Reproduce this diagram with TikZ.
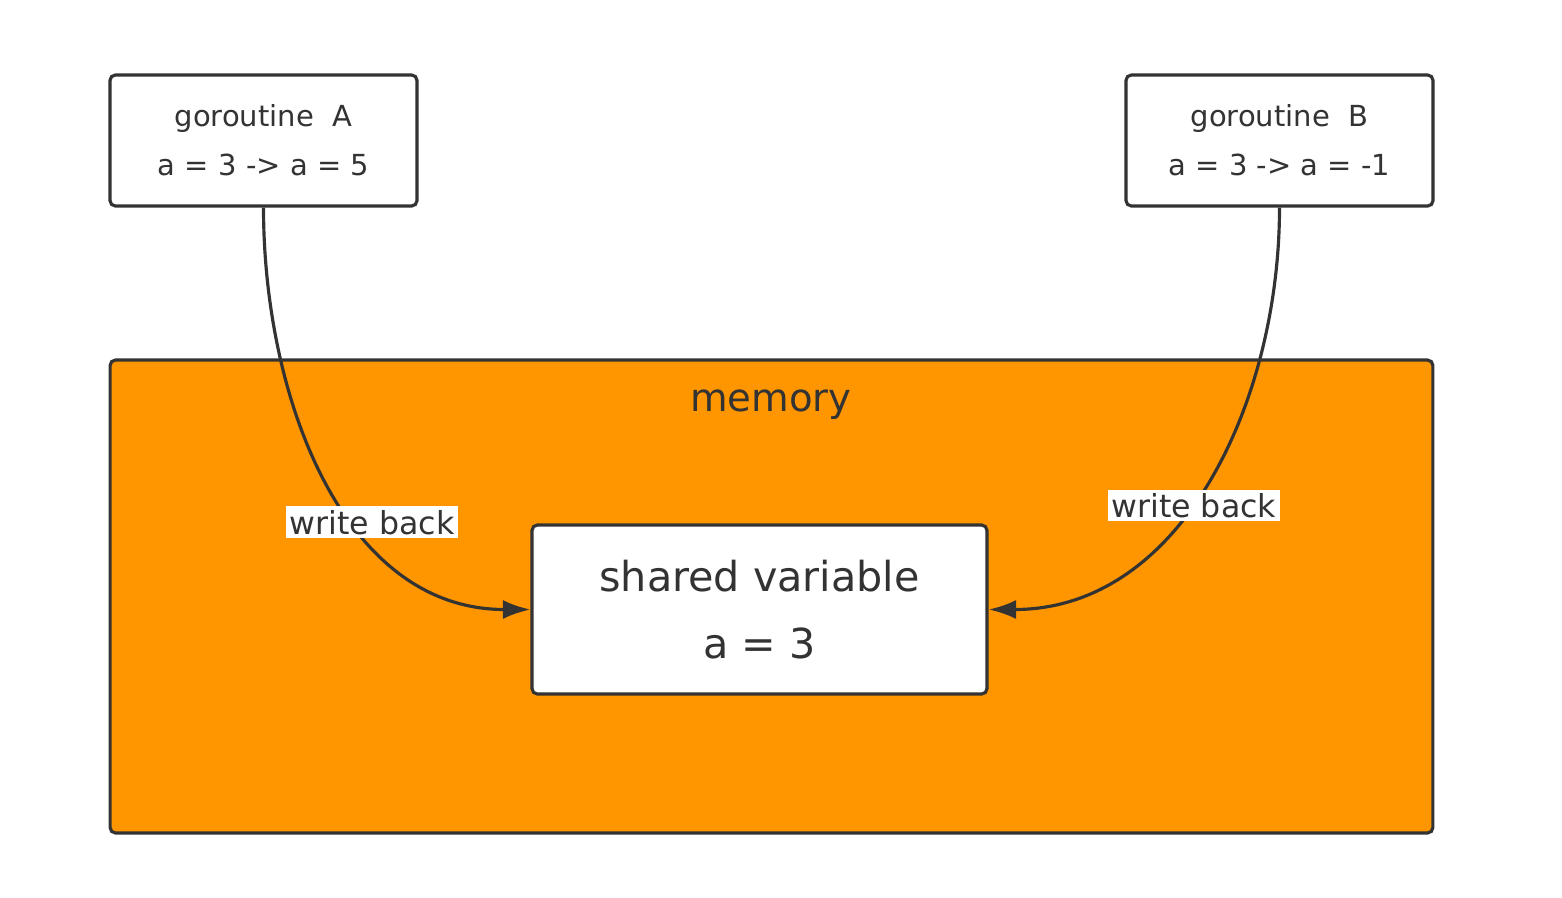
\documentclass[tikz,border=0pt]{standalone}
\usepackage{fontspec}
\setmainfont{DejaVu Sans}
\usetikzlibrary{arrows.meta}
\definecolor{ink}{HTML}{333333}
\definecolor{memorange}{HTML}{FF9600}

\begin{document}
\begin{tikzpicture}[x=0.02cm, y=-0.02cm, rounded corners=3pt, line width=1.8pt, color=ink]
  \useasboundingbox (0,0) rectangle (1562,897);
  % memory area and its title
  \node[draw=ink, fill=memorange, minimum width=26.46cm, minimum height=9.46cm] (mem) at (771.5,596.5) {};
  \node[font=\fontsize{22}{26}\selectfont] (memtitle) at (771,405) {memory};
  % the variable and the two goroutines
  \node[
    draw=ink,
    fill=white,
    minimum width=9.1cm,
    minimum height=3.38cm,
    align=center,
    font=\fontsize{23.5}{38.5}\selectfont,
  ] (shared) at (759.5,609.5) {shared variable\\a = 3};
  \foreach \name/\xpos/\val in {A/263.5/5,B/1279.5/-1} {
    \node[
      draw=ink,
      fill=white,
      minimum width=6.14cm,
      minimum height=2.62cm,
      align=center,
      font=\fontsize{16.5}{28}\selectfont,
    ] (gor\name) at (\xpos,140.5) {goroutine~~\name\\a = 3 -> a = \val};
  }
  % write back arrows
  \draw[-{Latex[length=0.55cm, width=0.38cm]}, rounded corners=0pt] (gorA.south) to[out=-90, in=180]
    node[pos=0.6, xshift=0.34cm, fill=white, inner sep=2pt, font=\fontsize{18}{20}\selectfont] (wbA) {write back} (shared.west);
  \draw[-{Latex[length=0.55cm, width=0.38cm]}, rounded corners=0pt] (gorB.south) to[out=-90, in=0]
    node[pos=0.555, xshift=0.08cm, fill=white, inner sep=2pt, font=\fontsize{18}{20}\selectfont] (wbB) {write back} (shared.east);
\end{tikzpicture}
\end{document}
